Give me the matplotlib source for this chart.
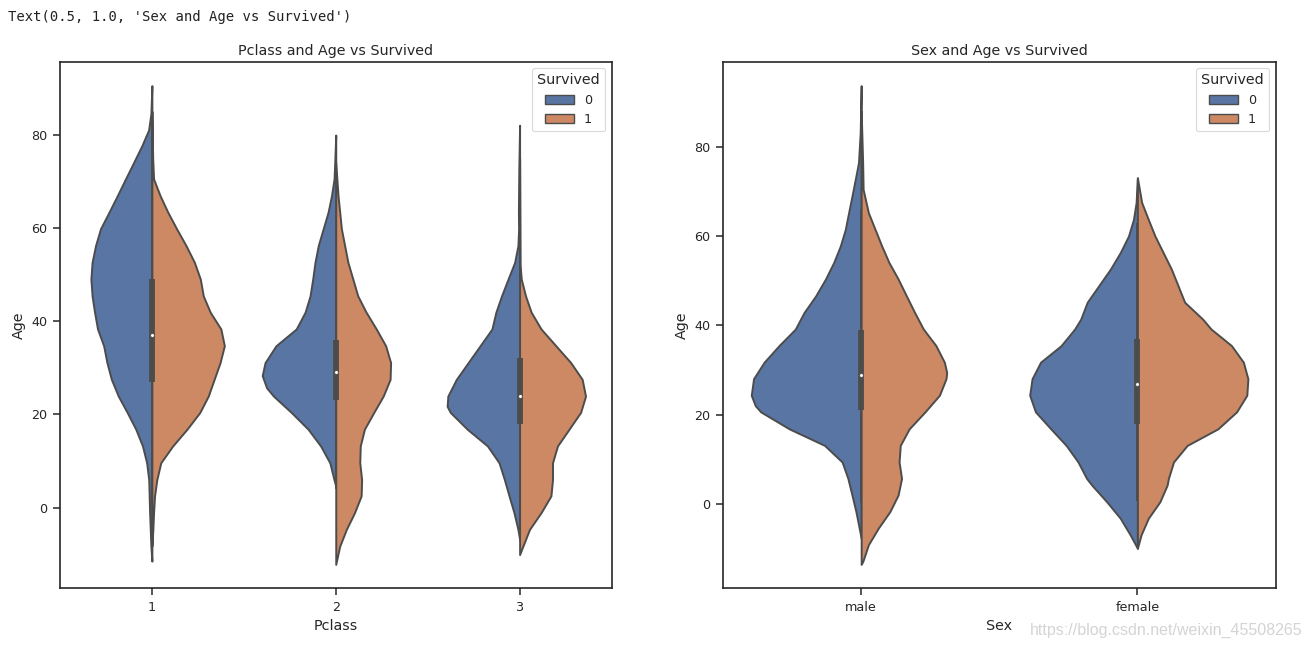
import colorsys
import numpy as np
import matplotlib
matplotlib.use("Agg")
import matplotlib.pyplot as plt
from matplotlib.patches import Patch

# ---------------- data ----------------
pclass_labels = ["1", "2", "3"]
sex_labels = ["male", "female"]
hue_labels = ["0", "1"]

# relative half-violin densities (Survived = 0 left half, 1 right half)
c1_s0_age = [90.5, 84.5, 81.0, 77.7, 74.1, 70.5, 66.9, 63.4, 59.8, 56.2, 52.6, 49.0, 45.4, 41.9,
             38.3, 34.7, 31.1, 27.5, 23.9, 20.4, 16.8, 13.2, 9.6, 6.0, -1.1, -8.3, -11.5]
c1_s0_den = [0, 1, 3.3, 10, 18.3, 26.7, 35, 43.3, 52, 57, 60.5, 61.7, 60.5, 58,
             55, 48.8, 45.5, 41, 34, 25, 16.3, 9.5, 5.3, 3.2, 2.3, 1, 0]
c1_s1_age = [85.0, 75.0, 70.5, 66.9, 63.4, 59.8, 56.2, 52.6, 49.0, 45.4, 41.9, 38.3, 34.7,
             31.1, 27.5, 23.9, 20.4, 16.8, 13.2, 9.6, 6.0, 2.5, -1.1, -4.7, -8.3]
c1_s1_den = [0, 0.8, 1.7, 8.3, 16, 25, 34.5, 43, 49, 52, 59, 69.8, 73.3,
             69, 63, 57, 48.5, 35.5, 21, 9, 5, 2.7, 1.7, 1, 0]

c2_s0_age = [79.9, 74.1, 70.5, 66.9, 63.4, 59.8, 56.2, 52.6, 49.0, 45.4, 41.9, 38.3, 34.7,
             31.1, 28.3, 25.7, 23.9, 20.4, 16.8, 13.2, 9.6, 6.0, 4.6]
c2_s0_den = [0, 1, 1.7, 4.3, 7.7, 12.7, 17.7, 21, 23.3, 26, 31, 40, 60.5,
             71.5, 74.4, 70, 63, 45, 28, 15.3, 6, 1.8, 0]
c2_s1_age = [74.0, 66.9, 63.4, 59.8, 56.2, 52.6, 49.0, 45.4, 41.9, 38.3, 34.7, 31.1, 27.5,
             23.9, 20.4, 16.8, 13.2, 9.6, 6.0, 2.5, -1.1, -4.7, -8.3, -12.2]
c2_s1_den = [0, 2.3, 4, 5.7, 9, 12.3, 17.3, 22.3, 30.7, 41, 50.5, 55.5, 55,
             48, 38.5, 29, 24.8, 24.3, 26.2, 25.7, 19, 10.7, 4, 0]

c3_s0_age = [82.0, 72.4, 63.4, 59.8, 56.2, 52.6, 49.0, 45.4, 41.9, 38.3, 34.7, 31.1, 27.5,
             23.9, 21.7, 20.4, 16.8, 13.2, 9.6, 6.0, 2.5, -1.1, -4.7, -6.8]
c3_s0_den = [0, 0.8, 1.2, 1, 1.7, 5, 11.7, 18.3, 24, 28, 40, 52, 64,
             72.6, 73.3, 70.1, 53, 32.5, 20.8, 15.4, 10.7, 5.7, 1.7, 0]
c3_s1_age = [75.0, 52.0, 49.0, 45.4, 41.9, 38.3, 34.7, 31.1, 27.5, 23.9, 20.4, 16.8, 13.2,
             9.6, 6.0, 2.5, -1.1, -4.7, -8.3, -10.1]
c3_s1_den = [0, 0.5, 1.7, 6, 11.7, 21.7, 36.7, 51.7, 63.3, 66.7, 61.7, 50, 38.3,
             33.3, 33.3, 31.7, 21.7, 10, 3.3, 0]

m_s0_age = [93.6, 83.0, 76.4, 72.6, 68.9, 65.2, 61.5, 57.8, 54.1, 50.4, 46.6, 42.9, 39.2,
            35.5, 31.8, 28.1, 24.4, 22.1, 20.7, 16.9, 13.2, 9.5, 5.8, 2.1, -1.6, -5.3, -7.6]
m_s0_den = [0, 1, 2.7, 6, 9.3, 12.7, 16, 21, 27.7, 36, 46, 57.7, 66.5,
            83, 98, 108.7, 111, 107, 101.5, 72.7, 37, 19.3, 13.4, 9.3, 5.3, 2, 0]
m_s1_age = [88.0, 76.4, 70.4, 65.2, 61.5, 57.8, 54.1, 50.4, 46.6, 42.9, 39.2, 35.5, 31.8,
            29.5, 28.1, 24.4, 20.7, 16.9, 13.2, 9.5, 5.8, 2.1, -1.6, -5.3, -9.0, -12.7, -13.4]
m_s1_den = [0, 1.5, 2, 7.3, 14, 20.7, 28, 37.3, 45.7, 54, 62.8, 75.5, 84,
            86.4, 85.7, 79, 64.5, 48.5, 39.5, 38.3, 40.8, 37.3, 29, 17.3, 7.3, 1.7, 0]

f_s0_age = [73.0, 67.5, 63.7, 60.0, 56.3, 52.6, 48.9, 45.2, 41.4, 39.2, 35.5, 31.8, 28.1,
            24.4, 20.7, 16.9, 13.2, 9.5, 5.8, 4.3, 0.6, -3.1, -6.8, -9.8]
f_s0_den = [0, 1.3, 4, 9, 17.3, 27.3, 39, 50.7, 57.3, 63.4, 77.1, 97.8, 106.4,
            108.8, 103, 87.5, 72, 60, 51.3, 46, 31, 17.3, 7.3, 0]
f_s1_age = [73.0, 67.5, 63.7, 60.0, 56.3, 52.6, 48.9, 45.2, 41.4, 39.2, 35.5, 31.8, 28.1,
            24.4, 20.7, 16.9, 13.2, 9.5, 5.8, 4.3, 0.6, -3.1, -6.8, -9.8]
f_s1_den = [0, 4.3, 11, 17.7, 26, 34.3, 41, 47.7, 66, 74.4, 95, 107, 111.6,
            110.5, 100.2, 81.3, 50.3, 36.5, 31.3, 30, 22.7, 11, 3.7, 0]

# box statistics per group: whisker low, q1, median, q3, whisker high
pclass_box = [[0.92, 27, 37, 49, 80], [4, 23, 29, 36, 54], [0.42, 18, 24, 32, 51]]
sex_box = [[0.42, 21, 29, 39, 66], [0.75, 18, 27, 37, 63]]

pclass_violins = [((c1_s0_age, c1_s0_den), (c1_s1_age, c1_s1_den)),
                  ((c2_s0_age, c2_s0_den), (c2_s1_age, c2_s1_den)),
                  ((c3_s0_age, c3_s0_den), (c3_s1_age, c3_s1_den))]
sex_violins = [((m_s0_age, m_s0_den), (m_s1_age, m_s1_den)),
               ((f_s0_age, f_s0_den), (f_s1_age, f_s1_den))]

# ---------------- style ----------------
def desat(hexc, prop=0.75):
    rgb = matplotlib.colors.to_rgb(hexc)
    h, l, s = colorsys.rgb_to_hls(*rgb)
    return colorsys.hls_to_rgb(h, l, s * prop)

c0 = desat("#4C72B0")
c1 = desat("#DD8452")
lum = min(colorsys.rgb_to_hls(*c)[1] for c in (c0, c1)) * 0.6
gray = (lum, lum, lum)
dark = "#262626"

plt.rcParams.update({
    "font.family": ["DejaVu Sans"],
    "axes.edgecolor": dark,
    "axes.linewidth": 1.2,
    "xtick.color": dark, "ytick.color": dark,
    "xtick.labelcolor": dark, "ytick.labelcolor": dark,
    "axes.labelcolor": dark, "text.color": dark,
})

fig = plt.figure(figsize=(13.12, 6.49), dpi=100)
axL = fig.add_axes([0.0457, 0.0935, 0.4204, 0.8114])
axR = fig.add_axes([0.5511, 0.0935, 0.4211, 0.8114])

LW = 1.4


def draw(ax, violins, boxes, labels, xlabel, title):
    maxd = max(max(max(d) for _, d in pair) for pair in violins)
    for i, pair in enumerate(violins):
        (a0, d0), (a1, d1) = pair
        w0 = np.asarray(d0) / maxd * 0.4
        w1 = np.asarray(d1) / maxd * 0.4
        ax.fill_betweenx(a0, i - w0, i, facecolor=c0, edgecolor=gray, lw=LW,
                         joinstyle="round", zorder=1)
        ax.fill_betweenx(a1, i, i + w1, facecolor=c1, edgecolor=gray, lw=LW,
                         joinstyle="round", zorder=1)
        lo, q1, med, q3, hi = boxes[i]
        ax.plot([i, i], [lo, hi], color=gray, lw=LW, solid_capstyle="butt", zorder=2)
        ax.plot([i, i], [q1, q3], color=gray, lw=LW * 3, solid_capstyle="butt", zorder=2)
        ax.scatter([i], [med], s=(LW * 2) ** 2, color="white", edgecolor=gray,
                   linewidth=0.6, zorder=3)
    ax.set_xlim(-0.5, len(violins) - 0.5)
    ax.set_xticks(range(len(labels)))
    ax.set_xticklabels(labels)
    ax.set_yticks([0, 20, 40, 60, 80])
    ax.tick_params(axis="both", labelsize=9.2, length=5, width=1.1, pad=4)
    ax.set_xlabel(xlabel, fontsize=10.3, labelpad=4)
    ax.set_ylabel("Age", fontsize=10.3, labelpad=4)
    ax.set_title(title, fontsize=10.3, pad=5)
    handles = [Patch(facecolor=c0, edgecolor=gray, lw=1.0, label=hue_labels[0]),
               Patch(facecolor=c1, edgecolor=gray, lw=1.0, label=hue_labels[1])]
    leg = ax.legend(handles=handles, title="Survived", loc="upper right",
                    fontsize=9.2, title_fontsize=10.3, frameon=True,
                    handlelength=2.2, handleheight=0.7)
    leg.get_frame().set_edgecolor("#d0d0d0")
    leg.get_frame().set_linewidth(0.8)


draw(axL, pclass_violins, pclass_box, pclass_labels, "Pclass", "Pclass and Age vs Survived")
draw(axR, sex_violins, sex_box, sex_labels, "Sex", "Sex and Age vs Survived")

fig.text(0.006, 0.974, "Text(0.5, 1.0, 'Sex and Age vs Survived')", family="DejaVu Sans Mono",
         fontsize=10, va="center", ha="left", color="#222222")
fig.text(0.993, 0.028, "https://blog.csdn.net/weixin_45508265", family="Liberation Sans",
         fontsize=11.5, va="center", ha="right", color="#d4d4d4")

fig.savefig("out.png", dpi=100)
